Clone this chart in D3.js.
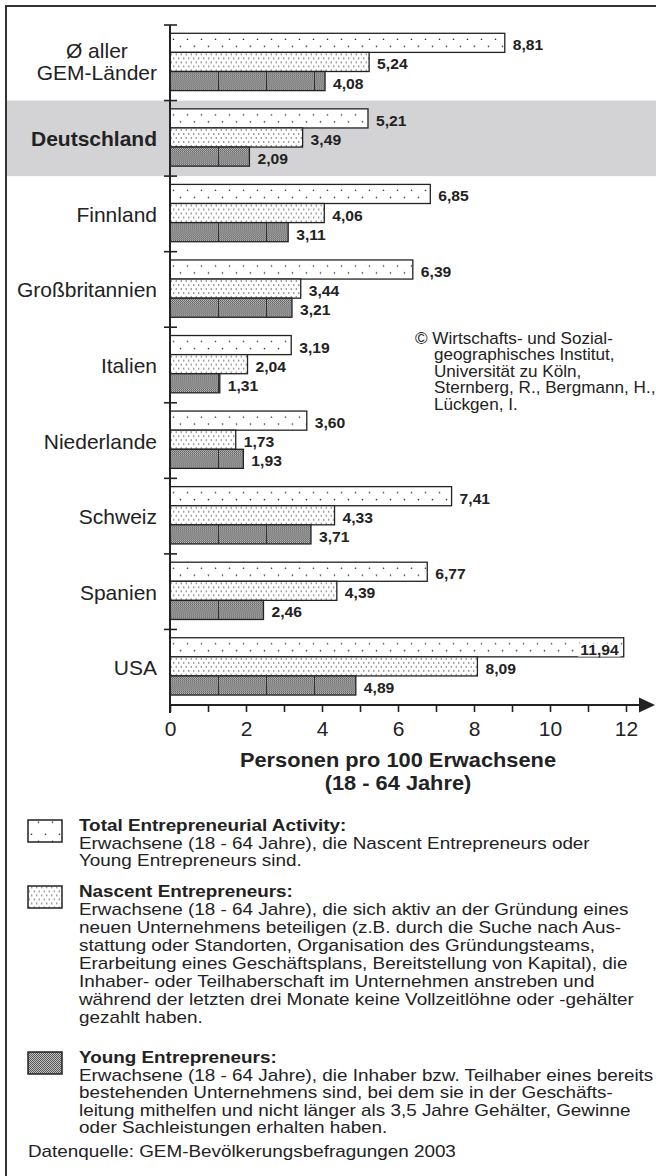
<!DOCTYPE html>
<html><head><meta charset="utf-8">
<script src="https://cdn.jsdelivr.net/npm/d3@7"></script>
<style>
body{margin:0;background:#fff}
svg{display:block}
text{font-family:"Liberation Sans",Arial,Helvetica,sans-serif;fill:#222}
</style>
</head><body>
<svg id="chart" width="656" height="1176"></svg>
<script>
// ---------- data ----------
const categories = ["Ø aller\nGEM-Länder","Deutschland","Finnland","Großbritannien","Italien","Niederlande","Schweiz","Spanien","USA"];
const seriesKeys = ["tea","nascent","young"];
const teaValues     = [8.81, 5.21, 6.85, 6.39, 3.19, 3.60, 7.41, 6.77, 11.94];
const nascentValues = [5.24, 3.49, 4.06, 3.44, 2.04, 1.73, 4.33, 4.39, 8.09];
const youngValues   = [4.08, 2.09, 3.11, 3.21, 1.31, 1.93, 3.71, 2.46, 4.89];
const xTicks = [0,1,2,3,4,5,6,7,8,9,10,11,12];
const xTickLabels = [0,2,4,6,8,10,12];
const highlightCategory = "Deutschland";
const axisTitleLines = ["Personen pro 100 Erwachsene","(18 - 64 Jahre)"];
const copyrightLines = ["© Wirtschafts- und Sozial-","geographisches Institut,","Universität zu Köln,","Sternberg, R., Bergmann, H.,","Lückgen, I."];
const legendTitles = ["Total Entrepreneurial Activity:","Nascent Entrepreneurs:","Young Entrepreneurs:"];
const legendBodies = [
  ["Erwachsene (18 - 64 Jahre), die Nascent Entrepreneurs oder","Young Entrepreneurs sind."],
  ["Erwachsene (18 - 64 Jahre), die sich aktiv an der Gründung eines",
   "neuen Unternehmens beteiligen (z.B. durch die Suche nach Aus-",
   "stattung oder Standorten, Organisation des Gründungsteams,",
   "Erarbeitung eines Geschäftsplans, Bereitstellung von Kapital), die",
   "Inhaber- oder Teilhaberschaft im Unternehmen anstreben und",
   "während der letzten drei Monate keine Vollzeitlöhne oder -gehälter",
   "gezahlt haben."],
  ["Erwachsene (18 - 64 Jahre), die Inhaber bzw. Teilhaber eines bereits",
   "bestehenden Unternehmens sind, bei dem sie in der Geschäfts-",
   "leitung mithelfen und nicht länger als 3,5 Jahre Gehälter, Gewinne",
   "oder Sachleistungen erhalten haben."]
];
const sourceText = "Datenquelle: GEM-Bevölkerungsbefragungen 2003";

// ---------- layout ----------
const svg = d3.select("#chart");
const ink = "#222";
const x = d3.scaleLinear().domain([0, 12]).range([170, 626]);
const y = d3.scaleBand().domain(categories).range([25, 705]);
const ySub = d3.scaleBand().domain(seriesKeys).range([8.3, 65.6]);
const bh = ySub.bandwidth();

// ---------- patterns ----------
const defs = svg.append("defs");
const pTea = defs.append("pattern").attr("id","pat-tea").attr("patternUnits","userSpaceOnUse")
  .attr("x",0).attr("y",ySub("tea")).attr("width",14).attr("height",bh);
pTea.append("rect").attr("width",14).attr("height",bh).attr("fill","#fff");
pTea.append("circle").attr("cx",3.5).attr("cy",6).attr("r",0.8).attr("fill","#333");
pTea.append("circle").attr("cx",10.5).attr("cy",13).attr("r",0.8).attr("fill","#333");

const pNas = defs.append("pattern").attr("id","pat-nascent").attr("patternUnits","userSpaceOnUse")
  .attr("x",0).attr("y",ySub("nascent")).attr("width",5).attr("height",8);
pNas.append("rect").attr("width",5).attr("height",8).attr("fill","#fff");
pNas.append("circle").attr("cx",1.25).attr("cy",2).attr("r",0.75).attr("fill","#555");
pNas.append("circle").attr("cx",3.75).attr("cy",6).attr("r",0.75).attr("fill","#555");

const pChk = defs.append("pattern").attr("id","pat-checker").attr("patternUnits","userSpaceOnUse")
  .attr("width",2).attr("height",2);
pChk.append("rect").attr("width",2).attr("height",2).attr("fill","#c4c4c4");
pChk.append("rect").attr("width",1).attr("height",1).attr("fill","#555");
pChk.append("rect").attr("x",1).attr("y",1).attr("width",1).attr("height",1).attr("fill","#555");

const pYoung = defs.append("pattern").attr("id","pat-young").attr("patternUnits","userSpaceOnUse")
  .attr("x",0).attr("y",ySub("young")).attr("width",48).attr("height",bh);
pYoung.append("rect").attr("width",48).attr("height",bh).attr("fill","url(#pat-checker)");
pYoung.append("line").attr("x1",0.5).attr("x2",0.5).attr("y1",0).attr("y2",bh)
  .attr("stroke","#333").attr("stroke-width",1);

// ---------- frame & highlight ----------
svg.append("rect").attr("x",7).attr("y",y(highlightCategory)).attr("width",649).attr("height",y.bandwidth())
  .attr("fill","#d3d3d5");
svg.append("path").attr("d","M6,1176 V6 H656").attr("fill","none").attr("stroke","#333").attr("stroke-width",2);

// ---------- bars ----------
const rows = categories.map((c,i)=>({cat:c, vals:[
  {key:"tea", v:teaValues[i]}, {key:"nascent", v:nascentValues[i]}, {key:"young", v:youngValues[i]}]}));
const fmt = v => d3.format(".2f")(v).replace(".", ",");
const isInside = v => x(v) + 50 > 656;

const groups = svg.append("g").selectAll("g").data(rows).join("g")
  .attr("transform", d => `translate(${x(0)},${y(d.cat)})`);
groups.selectAll("rect").data(d => d.vals).join("rect")
  .attr("x",0).attr("y",d => ySub(d.key))
  .attr("width",d => x(d.v) - x(0)).attr("height",bh)
  .attr("fill",d => `url(#pat-${d.key})`)
  .attr("stroke",ink).attr("stroke-width",1.3);
const labs = groups.selectAll("g.lab").data(d => d.vals).join("g").attr("class","lab")
  .attr("transform", d => {
    const tx = isInside(d.v) ? x(d.v) - x(0) - 5 : x(d.v) - x(0) + 8;
    return `translate(${tx},${ySub(d.key) + bh/2 + 7.5}) scale(1.12,1)`;
  });
labs.append("text")
  .attr("text-anchor", d => isInside(d.v) ? "end" : "start")
  .attr("font-size",14).attr("font-weight","bold")
  .text(d => fmt(d.v));
labs.filter(d => isInside(d.v)).each(function(){
  const g = d3.select(this);
  const bb = g.select("text").node().getBBox();
  g.insert("rect","text").attr("x",bb.x - 2).attr("y",bb.y + 1).attr("width",bb.width + 3).attr("height",bb.height - 2).attr("fill","#fff");
});

// ---------- y axis ----------
svg.append("line").attr("x1",170).attr("x2",170).attr("y1",25).attr("y2",713)
  .attr("stroke",ink).attr("stroke-width",2);
svg.append("g").selectAll("line").data(categories).join("line")
  .attr("x1",164).attr("x2",177).attr("y1",d => y(d)).attr("y2",d => y(d))
  .attr("stroke",ink).attr("stroke-width",1.6);

// category labels
const catG = svg.append("g");
categories.forEach(c => {
  const lines = c.split("\n");
  const cy = y(c) + y.bandwidth()/2;
  const bold = c === highlightCategory;
  const t = catG.append("text").attr("font-size",21).attr("font-weight", bold ? "bold" : "normal");
  if (lines.length === 1) {
    t.attr("x",157).attr("y",cy + 8).attr("text-anchor","end").text(c);
  } else {
    lines.forEach((ln,i) => {
      t.append("tspan").attr("x",157).attr("y", cy + 8 + (i - (lines.length-1)/2) * 22 - 2).text(ln);
    });
    t.attr("text-anchor","end");
    let maxW = 0;
    t.selectAll("tspan").each(function(){ maxW = Math.max(maxW, this.getComputedTextLength()); });
    t.attr("text-anchor","middle");
    t.selectAll("tspan").attr("x", 157 - maxW/2);
  }
});

// ---------- x axis ----------
const xAxis = d3.axisBottom(x).tickValues(xTicks).tickSize(7).tickPadding(9)
  .tickFormat(d => xTickLabels.includes(d) ? d : "");
const gx = svg.append("g").attr("transform","translate(0,705)").call(xAxis);
gx.select(".domain").remove();
gx.selectAll(".tick line").attr("stroke",ink).attr("stroke-width",1.6);
gx.selectAll(".tick text").attr("font-size",21).attr("fill",ink)
  .attr("font-family",'"Liberation Sans",Arial,sans-serif');
svg.append("line").attr("x1",169).attr("x2",641).attr("y1",705).attr("y2",705)
  .attr("stroke",ink).attr("stroke-width",2);
svg.append("path").attr("d","M639,697.5 L655,705 L639,712.5 Z").attr("fill",ink);

// axis title
axisTitleLines.forEach((ln,i) => {
  svg.append("g").attr("transform",`translate(398,${767 + i*23}) scale(1.09,1)`)
    .append("text").attr("text-anchor","middle").attr("font-size",20).attr("font-weight","bold").text(ln);
});

// ---------- copyright ----------
copyrightLines.forEach((ln,i) => {
  svg.append("g").attr("transform",`translate(${i === 0 ? 415 : 434},${343.5 + i*16.5}) scale(1.07,1)`)
    .append("text").attr("font-size",16).text(ln);
});

// ---------- legend ----------
const legendTop = [831, 897, 1063];
const lineH = [17.6, 18, 17.6];
const sx = 1.18;
seriesKeys.forEach((k,i) => {
  const lg = svg.append("g");
  lg.append("g").attr("transform",`translate(28,${legendTop[i] - 11})`)
    .append("rect").attr("width",34).attr("height",22)
    .attr("fill", k === "young" ? "url(#pat-checker)" : `url(#pat-${k})`)
    .attr("stroke",ink).attr("stroke-width",1.5);
  lg.append("g").attr("transform",`translate(79,${legendTop[i]}) scale(${sx},1)`)
    .append("text").attr("font-size",16).attr("font-weight","bold").text(legendTitles[i]);
  legendBodies[i].forEach((ln,j) => {
    lg.append("g").attr("transform",`translate(79,${legendTop[i] + (j+1)*lineH[i]}) scale(${sx},1)`)
      .append("text").attr("font-size",16).text(ln);
  });
});
svg.append("g").attr("transform",`translate(28,1157) scale(${sx},1)`)
  .append("text").attr("font-size",16).text(sourceText);
</script>
</body></html>
